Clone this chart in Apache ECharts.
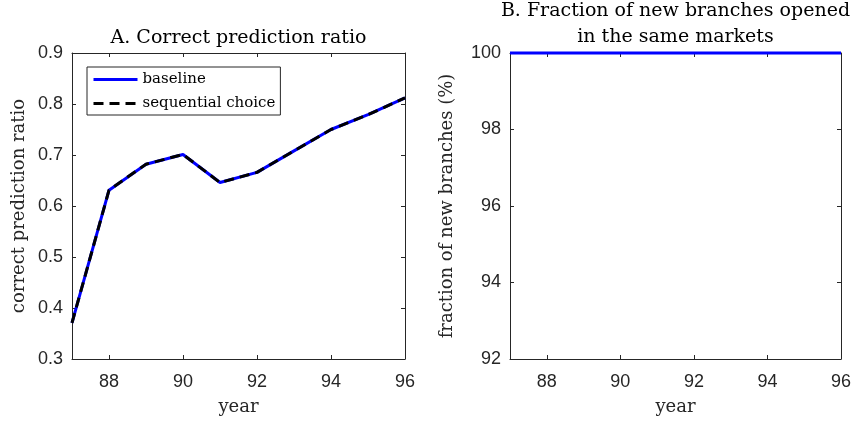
<!DOCTYPE html>
<html>
<head>
<meta charset="utf-8">
<script src="https://cdn.jsdelivr.net/npm/echarts@6/dist/echarts.min.js"></script>
<style>
  html, body { margin: 0; padding: 0; background: #fff; }
  #chart { width: 855px; height: 422px; }
</style>
</head>
<body>
<div id="chart"></div>
<script>
// Years 1987-1996 (two-digit labels)
const years = [87, 88, 89, 90, 91, 92, 93, 94, 95, 96];

// Panel A: correct prediction ratio by model
const baselineRatio   = [0.371, 0.631, 0.682, 0.701, 0.646, 0.666, 0.708, 0.750, 0.779, 0.812];
const sequentialRatio = [0.371, 0.631, 0.682, 0.701, 0.646, 0.666, 0.708, 0.750, 0.779, 0.812];

// Panel B: share of new branches opened in the same markets (%)
const sameMarketShare = [100, 100, 100, 100, 100, 100, 100, 100, 100, 100];

// Tick positions
const yearTicks  = [88, 90, 92, 94, 96];
const ratioTicks = [0.3, 0.4, 0.5, 0.6, 0.7, 0.8, 0.9];
const shareTicks = [92, 94, 96, 98, 100];

const AX = '#262626';
const SERIF = "'DejaVu Serif', serif";
const SANS = "'Liberation Sans', Arial, sans-serif";

const pairs = (vals) => years.map((y, i) => [y, vals[i]]);

function xAxes(gridIndex, title, titleGap) {
  const common = {
    type: 'value', gridIndex, min: 87, max: 96,
    axisLine: { show: true, lineStyle: { color: AX, width: 1 } },
    axisTick: { show: true, inside: true, length: 4, customValues: yearTicks, lineStyle: { color: AX } },
    splitLine: { show: false }
  };
  return [
    Object.assign({}, common, {
      position: 'bottom',
      name: 'year', nameLocation: 'middle', nameGap: 39,
      nameTextStyle: { fontFamily: SERIF, fontSize: 18, color: AX },
      axisLabel: { customValues: yearTicks, fontFamily: SANS, fontSize: 18, color: AX, margin: 14 }
    }),
    Object.assign({}, common, {
      position: 'top',
      name: title, nameLocation: 'middle', nameGap: titleGap,
      nameTextStyle: { fontFamily: SERIF, fontSize: 19, color: '#000', lineHeight: 26 },
      axisLabel: { show: false }
    })
  ];
}

function yAxes(gridIndex, min, max, ticks, name, gap, fmt) {
  const common = {
    type: 'value', gridIndex, min, max,
    axisLine: { show: true, lineStyle: { color: AX, width: 1 } },
    axisTick: { show: true, inside: true, length: 4, customValues: ticks, lineStyle: { color: AX } },
    splitLine: { show: false }
  };
  return [
    Object.assign({}, common, {
      position: 'left',
      name, nameLocation: 'middle', nameGap: gap,
      nameTextStyle: { fontFamily: SERIF, fontSize: 18, color: AX },
      axisLabel: { customValues: ticks, fontFamily: SANS, fontSize: 18, color: AX, margin: 9, formatter: fmt }
    }),
    Object.assign({}, common, {
      position: 'right',
      axisLabel: { show: false }
    })
  ];
}

const chart = echarts.init(document.getElementById('chart'), null, { renderer: 'canvas' });

chart.setOption({
  animation: false,
  backgroundColor: '#fff',
  textStyle: { fontFamily: SANS },
  grid: [
    { left: 72, top: 53, width: 333, height: 306, containLabel: false, outerBoundsMode: 'none' },
    { left: 510, top: 53, width: 331, height: 306, containLabel: false, outerBoundsMode: 'none' }
  ],
  xAxis: [
    ...xAxes(0, 'A. Correct prediction ratio', 2),
    ...xAxes(1, 'B. Fraction of new branches opened\nin the same markets', 3)
  ],
  yAxis: [
    ...yAxes(0, 0.3, 0.9, ratioTicks, 'correct prediction ratio', 44, (v) => v.toFixed(1)),
    ...yAxes(1, 92, 100, shareTicks, 'fraction of new branches (%)', 54, (v) => String(v))
  ],
  legend: {
    data: ['baseline', 'sequential choice'],
    orient: 'vertical',
    left: 87, top: 67,
    backgroundColor: '#fff',
    borderColor: AX, borderWidth: 1,
    padding: [5, 5, 4, 5],
    itemGap: 9,
    itemWidth: 44, itemHeight: 14,
    itemStyle: { color: 'rgba(0,0,0,0)', borderWidth: 0 },
    lineStyle: { width: 3 },
    textStyle: { fontFamily: SERIF, fontSize: 15, lineHeight: 14, color: '#000' }
  },
  series: [
    {
      name: 'baseline', type: 'line', xAxisIndex: 0, yAxisIndex: 0,
      data: pairs(baselineRatio), symbol: 'none', clip: false,
      lineStyle: { color: '#0000ff', width: 3 }, itemStyle: { color: '#0000ff' }, z: 3
    },
    {
      name: 'sequential choice', type: 'line', xAxisIndex: 0, yAxisIndex: 0,
      data: pairs(sequentialRatio), symbol: 'none', clip: false,
      lineStyle: { color: '#000', width: 3, type: [10, 6] }, itemStyle: { color: '#000' }, z: 4
    },
    {
      name: 'baseline', type: 'line', xAxisIndex: 2, yAxisIndex: 2,
      data: pairs(sameMarketShare), symbol: 'none', clip: false,
      lineStyle: { color: '#0000ff', width: 3 }, itemStyle: { color: '#0000ff' }, z: 3
    }
  ]
});
</script>
</body>
</html>
